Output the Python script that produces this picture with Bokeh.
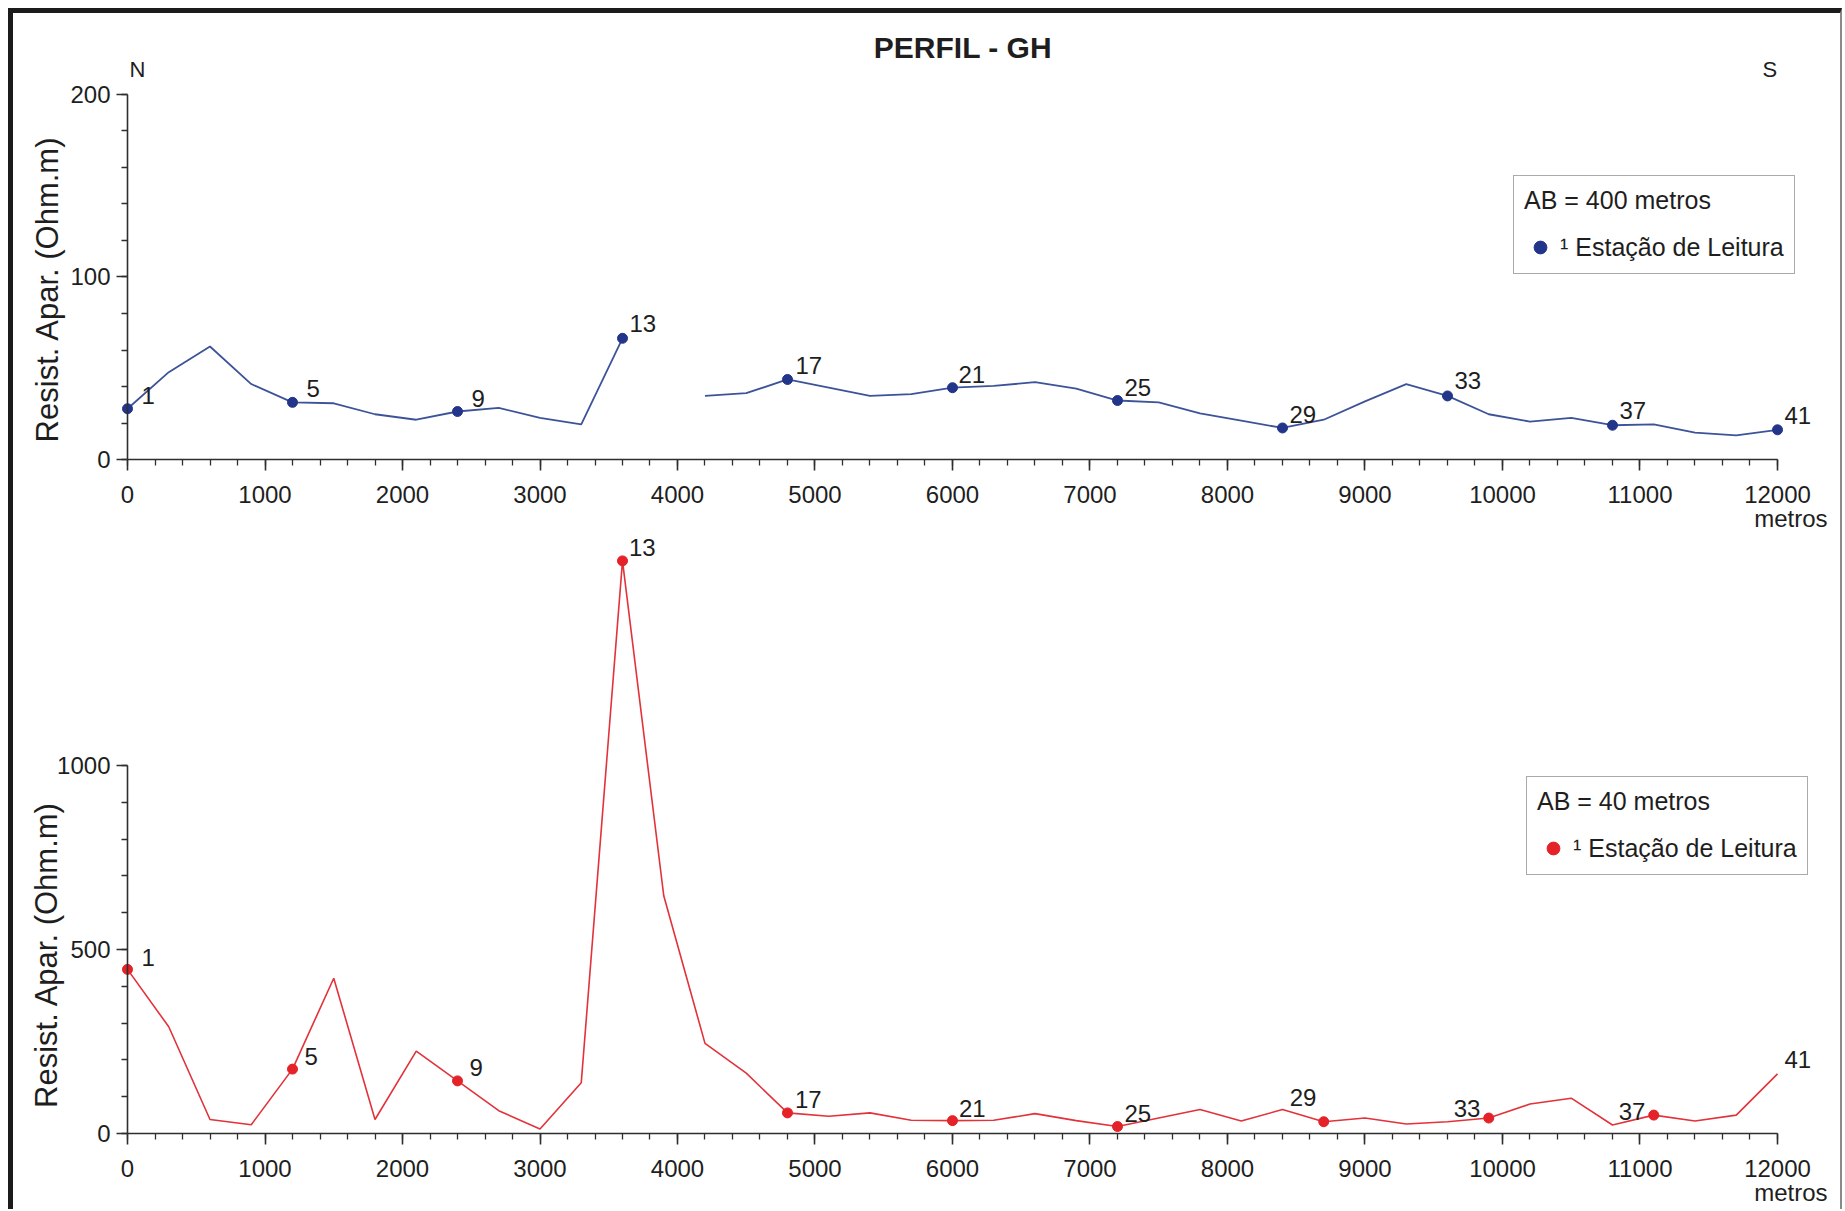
import math
from bokeh.plotting import figure
from bokeh.models import (Range1d, FixedTicker, ColumnDataSource, LabelSet, Label,
                          Legend, LegendItem)
from bokeh.core.properties import value
from bokeh.layouts import column
from bokeh.embed import file_html
from bokeh.resources import INLINE

NaN = float("nan")

# ---------------- data ----------------
distance = [0, 300, 600, 900, 1200, 1500, 1800, 2100, 2400, 2700, 3000, 3300, 3600,
            3900, 4200, 4500, 4800, 5100, 5400, 5700, 6000, 6300, 6600, 6900, 7200,
            7500, 7800, 8100, 8400, 8700, 9000, 9300, 9600, 9900, 10200, 10500, 10800,
            11100, 11400, 11700, 12000]

# AB = 400 m (blue), no reading at 3900 m
res_ab400 = [28, 48, 62, 41.5, 31.5, 31, 25, 22, 26.5, 28.5, 23, 19.5, 66.5,
             NaN, 35, 36.5, 44, 39.5, 35, 36, 39.5, 40.5, 42.5, 39, 32.5,
             31.5, 25.5, 21.5, 17.5, 22, 32, 41.5, 35, 25, 21, 23, 19,
             19.5, 15, 13.5, 16.5]

# AB = 40 m (red)
res_ab40 = [446, 290, 38, 24, 175, 422, 38, 224, 143, 62, 12, 138, 1556,
            646, 245, 164, 56, 47, 56, 36, 35, 36, 54, 35, 19,
            42, 65, 34, 65, 32, 42, 26, 32, 42, 80, 96, 23,
            50, 34, 50, 162]

station_names_400 = ["1", "5", "9", "13", "17", "21", "25", "29", "33", "37", "41"]
station_x_400 = [0, 1200, 2400, 3600, 4800, 6000, 7200, 8400, 9600, 10800, 12000]

station_names_40 = ["1", "5", "9", "13", "17", "21", "25", "29", "33", "37", "41"]
station_x_40 = [0, 1200, 2400, 3600, 4800, 6000, 7200, 8700, 9900, 11100, 12000]
dot_x_40 = [0, 1200, 2400, 3600, 4800, 6000, 7200, 8700, 9900, 11100]

x_tick_values = [0, 1000, 2000, 3000, 4000, 5000, 6000, 7000, 8000, 9000, 10000, 11000, 12000]
y_ticks_400 = [0, 100, 200]
y_ticks_40 = [0, 500, 1000]

# ---------------- styling ----------------
FONT = "Liberation Sans"
TXT = "#1e1e1e"
AX = "#2e2e2e"
BLUE_LINE = "#3d5399"
BLUE_DOT = "#22358a"
RED_LINE = "#e2323a"
RED_DOT = "#e42228"
W = 1827
X_START, X_END = -829.1, 12458.2


def lookup(xs, series):
    table = dict(zip(distance, series))
    return [table[x] for x in xs]


def make_fig(height, y_start, y_end, yticks, yminor, ybound):
    p = figure(width=W, height=height, x_range=Range1d(X_START, X_END),
               y_range=Range1d(y_start, y_end),
               output_backend="svg", toolbar_location=None,
               min_border_left=0, min_border_right=0,
               min_border_top=0, min_border_bottom=0)
    p.outline_line_color = None
    p.grid.visible = False
    p.background_fill_color = "white"
    p.border_fill_color = "white"

    xa = p.xaxis[0]
    xa.ticker = FixedTicker(ticks=x_tick_values,
                            minor_ticks=[v for v in range(0, 12001, 200)])
    xa.bounds = (0, 12000)
    xa.fixed_location = 0
    ya = p.yaxis[0]
    ya.ticker = FixedTicker(ticks=yticks, minor_ticks=yminor)
    ya.bounds = ybound
    ya.fixed_location = 0
    for ax in (xa, ya):
        ax.axis_line_color = AX
        ax.axis_line_width = 1.6
        ax.major_tick_line_color = AX
        ax.major_tick_line_width = 1.6
        ax.minor_tick_line_color = AX
        ax.minor_tick_line_width = 1.3
        ax.major_tick_in = 0
        ax.major_tick_out = 11
        ax.minor_tick_in = 0
        ax.minor_tick_out = 6
        ax.major_label_text_font = FONT
        ax.major_label_text_font_size = "24px"
        ax.major_label_text_color = TXT
    xa.major_label_standoff = 15
    ya.major_label_standoff = 6
    return p


def add_text(p, x, y, text, size, xo=0, yo=0, align="left", bold=False, angle=0.0):
    # anchor = vertical middle of the text
    p.add_layout(Label(x=x, y=y, x_offset=xo, y_offset=yo, text=text, text_font=FONT,
                       text_font_size=size, text_color=TXT, text_align=align,
                       text_baseline="middle", angle=angle,
                       text_font_style="bold" if bold else "normal"))


def add_legend(p, renderer, title, loc):
    lg = Legend(items=[LegendItem(label="\u00b9 Esta\u00e7\u00e3o de Leitura", renderers=[renderer])],
                title=title, location=loc, margin=0, padding=10, spacing=0,
                title_standoff=16, glyph_width=32, glyph_height=32, label_standoff=4,
                border_line_color="#555555", border_line_width=1.5,
                background_fill_color="white", background_fill_alpha=1.0,
                title_text_font=FONT, title_text_font_size="25px",
                title_text_font_style="normal", title_text_color=TXT,
                label_text_font=FONT, label_text_font_size="25px", label_text_color=TXT)
    p.add_layout(lg)


def add_station_labels(p, xs, ys, names, xo, yo):
    src = ColumnDataSource(dict(x=xs, y=ys, t=names, xo=xo, yo=yo))
    p.add_layout(LabelSet(x="x", y="y", text="t", x_offset="xo", y_offset="yo", source=src,
                          text_font=value(FONT), text_font_size=value("24px"),
                          text_color=TXT, text_baseline="alphabetic"))


# ---------------- top: AB = 400 m ----------------
# canvas rows 13..535 ; y=0 at 459.5 px, 1.83 px per Ohm.m
top = make_fig(522, -41.26, 243.99, y_ticks_400, [v for v in range(0, 201, 20)], (0, 200))
top.line(distance, res_ab400, line_color=BLUE_LINE, line_width=1.8)
dots400 = top.scatter(station_x_400, lookup(station_x_400, res_ab400), size=10,
                      fill_color=BLUE_DOT, line_color=BLUE_DOT)
add_station_labels(top, station_x_400, lookup(station_x_400, res_ab400), station_names_400,
                   [14, 14, 14, 7, 8, 6, 7, 7, 7, 7, 7],
                   [5, 5, 5, 6, 5, 5, 5, 5, 7, 6, 6])
add_text(top, 6076, 225.5, "PERFIL - GH", "30px", align="center", bold=True)
add_text(top, 0, 213.4, "N", "22px", xo=2)
add_text(top, 12000, 213.4, "S", "22px", xo=-15)
add_text(top, 0, 93.4, "Resist. Apar. (Ohm.m)", "31px", xo=-80, align="center",
         angle=math.pi / 2)
add_text(top, 12000, 0, "metros", "24px", xo=50, yo=-58.5, align="right")
add_legend(top, dots400, "AB = 400 metros", (1500, 261))

# ---------------- bottom: AB = 40 m ----------------
# canvas rows 535..1209 ; y=0 at 1133 px, 0.368 px per Ohm.m
bottom = make_fig(674, -206.5, 1625, y_ticks_40, [v for v in range(0, 1001, 100)], (0, 1000))
bottom.line(distance, res_ab40, line_color=RED_LINE, line_width=1.6)
dots40 = bottom.scatter(dot_x_40, lookup(dot_x_40, res_ab40), size=10,
                        fill_color=RED_DOT, line_color=RED_DOT)
add_station_labels(bottom, station_x_40, lookup(station_x_40, res_ab40), station_names_40,
                   [14, 12, 12, 6.5, 7.5, 6.5, 7, -34, -35, -35, 7],
                   [3.5, 4, 4.5, 4.5, 4.5, 3.5, 5, 15.5, 1, -5, 6])
add_text(bottom, 0, 486, "Resist. Apar. (Ohm.m)", "31px", xo=-81, align="center",
         angle=math.pi / 2)
add_text(bottom, 12000, 0, "metros", "24px", xo=50, yo=-58.5, align="right")
add_legend(bottom, dots40, "AB = 40 metros", (1513, 334))

layout = column(top, bottom, spacing=0,
                styles={"margin-left": "8px", "margin-top": "8px",
                        "border-top": "5px solid #1b1b1b",
                        "border-left": "5px solid #1b1b1b",
                        "border-right": "2px solid #8a8a8a",
                        "background-color": "white"})

open("out.html", "w").write(file_html(layout, INLINE))
